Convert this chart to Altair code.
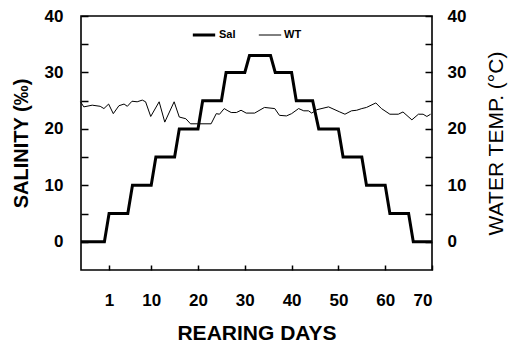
import altair as alt
import pandas as pd

# Salinity (per mille) step schedule
sal_day = [-5, 0, 1, 5, 6, 10, 11, 15, 16, 20, 21, 25, 26, 30, 31, 35.5, 36.5, 40, 41,
           44.5, 45.8, 50, 51, 55, 56, 60, 61, 65, 66, 70]
sal_val = [0, 0, 5, 5, 10, 10, 15, 15, 20, 20, 25, 25, 30, 30, 33, 33, 30, 30, 25,
           25, 20, 20, 15, 15, 10, 10, 5, 5, 0, 0]

# Water temperature (deg C)
wt_day = [-5.1, -4.4, -2.6, -0.9, -0.1, 0.9, 1.9, 3.1, 4.2, 4.9, 5.9, 7.0, 8.1, 8.8, 9.9,
          11.7, 12.9, 14.9, 16.0, 17.4, 18.4, 19.9, 22.8, 23.9, 24.6, 25.6, 26.4, 27.1,
          28.2, 29.2, 30.3, 32.1, 34.2, 36.4, 37.4, 38.9, 40.0, 41.5, 42.6, 43.6, 44.3,
          45.4, 47.9, 50.3, 51.4, 52.8, 53.9, 55.0, 56.0, 58.0, 59.2, 61.0, 62.8, 63.8,
          65.7, 67.1, 68.1, 68.9, 69.7]
wt_val = [24.8, 23.9, 24.2, 24.0, 23.6, 24.4, 22.7, 24.1, 24.4, 24.0, 24.9, 24.8, 25.1,
          24.8, 22.2, 24.8, 21.2, 24.8, 22.1, 21.8, 20.9, 20.9, 20.9, 22.7, 22.6, 23.6,
          23.2, 22.9, 22.9, 23.3, 22.8, 22.8, 23.8, 23.6, 22.4, 22.3, 22.7, 23.6, 23.2,
          23.2, 22.8, 23.4, 23.9, 23.0, 22.6, 23.2, 23.3, 23.6, 23.8, 24.6, 23.6, 22.6,
          22.6, 23.0, 21.6, 22.6, 22.6, 22.2, 22.6]

series_names = ["Sal", "WT"]
x_ticks = [1, 10, 20, 30, 40, 50, 60, 70]
y_labels = [0, 10, 20, 30, 40]
y_minor = [0, 5, 10, 15, 20, 25, 30, 35, 40]

df = pd.concat([
    pd.DataFrame({"series": "Sal", "day": sal_day, "value": sal_val, "idx": range(len(sal_day))}),
    pd.DataFrame({"series": "WT", "day": wt_day, "value": wt_val, "idx": range(len(wt_day))}),
], ignore_index=True)

FONT = "Liberation Sans"
W, H = 351, 254
xs = alt.Scale(domain=[-5, 70], nice=False, zero=False)
ys = alt.Scale(domain=[-5, 40], nice=False, zero=False)

base = alt.Chart(df)

lines = base.mark_line(color="black", strokeJoin="miter").encode(
    x=alt.X("day:Q", scale=xs, axis=alt.Axis(
        orient="bottom", values=x_ticks, ticks=False, domain=False, grid=False,
        labelPadding=22, labelFontSize=17, labelFontWeight="bold", labelFont=FONT,
        labelColor="black",
        title="REARING DAYS", titleFont=FONT, titleFontSize=21, titleFontWeight="bold",
        titleColor="black", titleBaseline="alphabetic", titleY=69)),
    y=alt.Y("value:Q", scale=ys, axis=alt.Axis(
        orient="left", values=y_labels, ticks=False, domain=False, grid=False,
        labelPadding=18, labelFontSize=17, labelFontWeight="bold", labelFont=FONT,
        labelColor="black",
        title="SALINITY (‰)", titleFont=FONT, titleFontSize=20, titleFontWeight="bold",
        titleColor="black", titleAngle=270, titleBaseline="alphabetic",
        titleX=-54, titleY=127)),
    strokeWidth=alt.StrokeWidth("series:N", scale=alt.Scale(domain=series_names, range=[3, 1]),
        legend=alt.Legend(
            orient="none", legendX=110, legendY=6, direction="horizontal", title=None,
            symbolType="stroke", symbolSize=500, symbolStrokeColor="black",
            labelFont=FONT, labelFontSize=11, labelFontWeight="bold", labelColor="black",
            labelOffset=2, columnPadding=20)),
    detail="series:N",
    order="idx:Q",
)

right_axis = base.mark_point(opacity=0).encode(
    x=alt.X("day:Q", scale=xs, axis=None),
    y=alt.Y("value:Q", scale=ys, axis=alt.Axis(
        orient="right", values=y_labels, ticks=False, domain=False, grid=False,
        labelPadding=15, labelFontSize=17, labelFontWeight="bold", labelFont=FONT,
        labelColor="black",
        title="WATER TEMP. (°C)", titleFont=FONT, titleFontSize=21, titleFontWeight="normal",
        titleColor="black", titleAngle=270, titleBaseline="alphabetic",
        titleX=70, titleY=127)),
)

ticks_a = base.mark_point(opacity=0).encode(
    x=alt.X("day:Q", scale=xs, axis=alt.Axis(
        orient="top", offset=-H, values=x_ticks, labels=False, domain=False, grid=False,
        tickSize=5, tickWidth=1.5, tickColor="black", title="")),
    y=alt.Y("value:Q", scale=ys, axis=alt.Axis(
        orient="right", offset=-W, values=y_minor, labels=False, domain=False, grid=False,
        tickSize=7, tickWidth=1.5, tickColor="black", title="")),
)

ticks_b = base.mark_point(opacity=0).encode(
    x=alt.X("day:Q", scale=xs, axis=None),
    y=alt.Y("value:Q", scale=ys, axis=alt.Axis(
        orient="left", offset=-W, values=y_minor, labels=False, domain=False, grid=False,
        tickSize=7, tickWidth=1.5, tickColor="black", title="")),
)

chart = alt.layer(lines, right_axis, ticks_a, ticks_b).resolve_scale(
    x="independent", y="independent"
).properties(
    width=W, height=H,
    autosize=alt.AutoSizeParams(type="none"),
    padding={"left": 73, "top": 8, "right": 79, "bottom": 73},
    background="white",
).configure_view(stroke="black", strokeWidth=1.6)

chart.save("out.html", embed_options={"renderer": "svg", "actions": False})
